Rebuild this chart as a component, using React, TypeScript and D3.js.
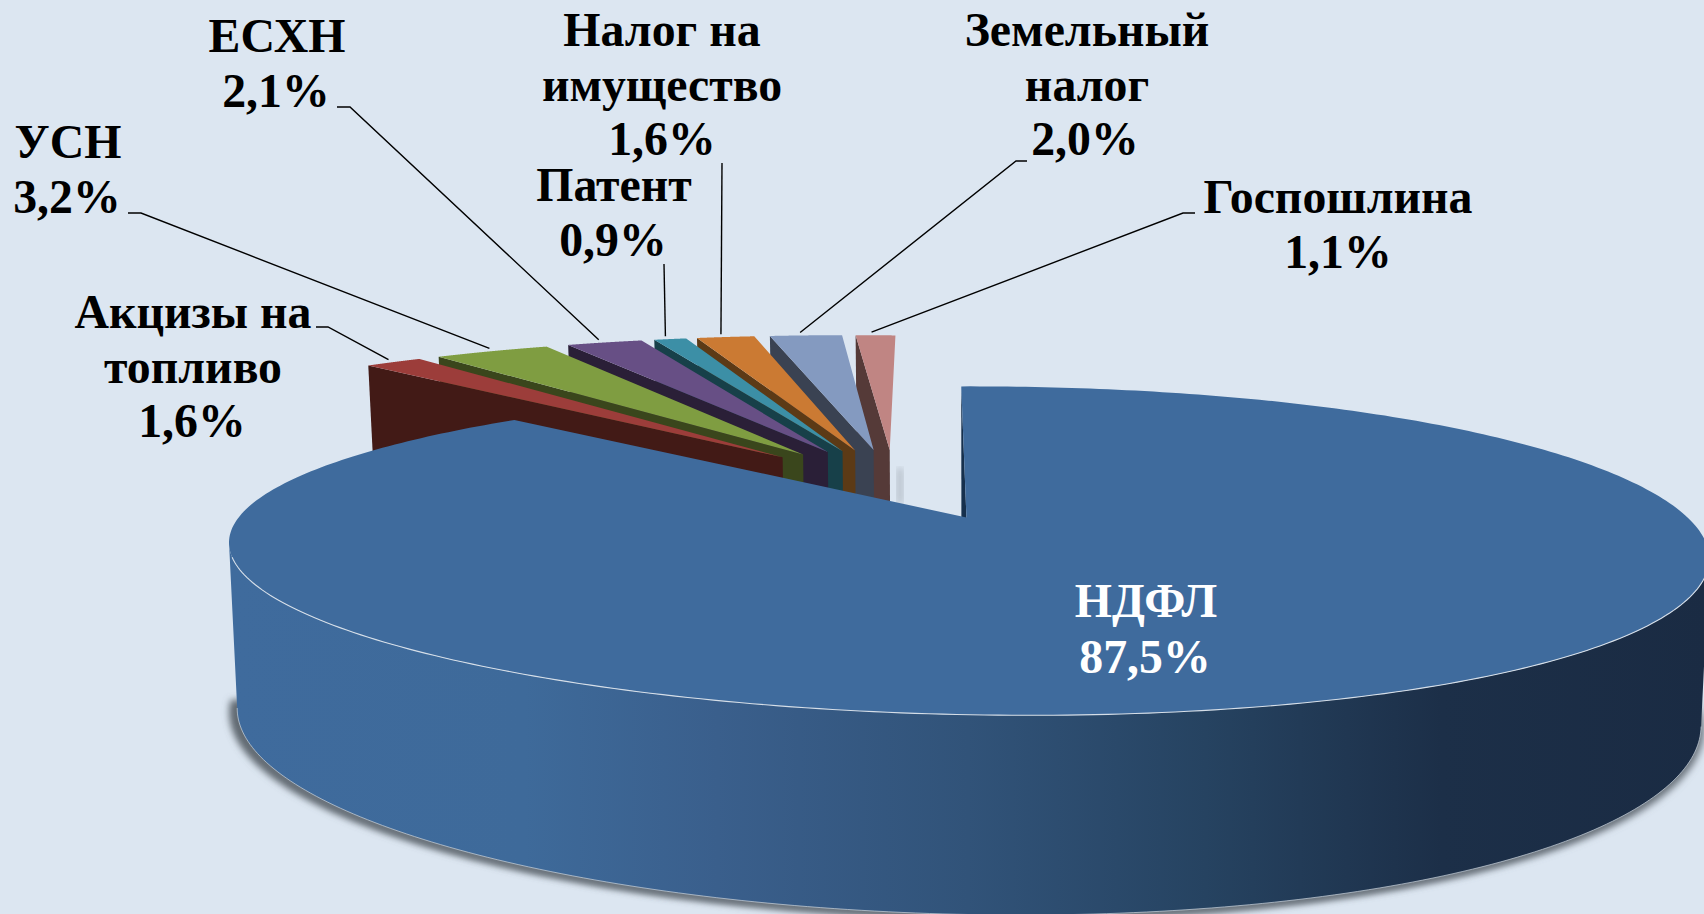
import React from "react";
import * as d3 from "d3";

const categories = ["НДФЛ", "Акцизы на топливо", "УСН", "ЕСХН", "Патент", "Налог на имущество", "Земельный налог", "Госпошлина"];
const shares = [87.5, 1.6, 3.2, 2.1, 0.9, 1.6, 2.0, 1.1];
const shareLabels = ["87,5%", "1,6%", "3,2%", "2,1%", "0,9%", "1,6%", "2,0%", "1,1%"];
const topColors = ["#3F6B9D", "#9C3D3A", "#7F9D41", "#674F85", "#3C8FA6", "#CB7A33", "#849AC0", "#C08583"];
const sideColors = ["#16304D", "#421A16", "#3A461C", "#2A1F37", "#174049", "#5C3A16", "#3A4252", "#553A38"];

const W = 1704, H = 914;
const X0 = 904, Y0 = 485.3, A = 695, B = 144.9, C = 153, K = 0.193, SKEW = 0.0102, MIDX = 974;
const EXPLODE_MAIN = 0.23, EXPLODE_SMALL = 0.25, R_SMALL = 1.035, DX_SMALL = -10;

function project(u: number, v: number, z: number, isMain: boolean): [number, number] {
  const d = 1 - K * v;
  let x = X0 + (A * u) / d;
  let y = Y0 + (B * v + C * z) / d;
  const f = isMain ? 0.3 + 0.9 * v : 1;
  y += SKEW * f * (x - MIDX);
  x = MIDX + (x - MIDX) * (1 - 0.011 * z);
  return [x, y];
}

const pie = d3.pie<number>().sort(null).startAngle((0.5 * Math.PI) / 180).endAngle((360.5 * Math.PI) / 180);
const arcs = pie(shares);

function pt(i: number, mid: number, a: number, r: number, z: number): [number, number] {
  const e = i === 0 ? EXPLODE_MAIN : EXPLODE_SMALL;
  const rr = i === 0 ? r : r * R_SMALL;
  const p = project(e * Math.sin(mid) + rr * Math.sin(a), -e * Math.cos(mid) - rr * Math.cos(a), z, i === 0);
  return i === 0 ? p : [p[0] + DX_SMALL, p[1]];
}
function rim(i: number, s: number, e: number, mid: number, z: number): [number, number][] {
  return d3.range(0, 361).map((k) => pt(i, mid, s + ((e - s) * k) / 360, 1, z));
}
const line = d3.line();
const poly = (p: [number, number][]) => line(p) + "Z";

type Lbl = { i: number; lines: string[]; x: number[]; y: number; lead: [number, number][]; f: number };
const labels: Lbl[] = [
  { i: 1, lines: ["Акцизы на", "топливо", shareLabels[1]], x: [193, 193, 192], y: 328, lead: [[316, 327], [328, 327]], f: 0.4 },
  { i: 2, lines: ["УСН", shareLabels[2]], x: [68, 67], y: 158, lead: [[128, 213], [141, 213]], f: 0.48 },
  { i: 3, lines: ["ЕСХН", shareLabels[3]], x: [277, 276], y: 52, lead: [[337, 107], [350, 107]], f: 0.42 },
  { i: 4, lines: ["Патент", shareLabels[4]], x: [614, 613], y: 201, lead: [[664, 264]], f: 0.35 },
  { i: 5, lines: ["Налог на", "имущество", shareLabels[5]], x: [662, 662, 662], y: 46, lead: [[722, 163]], f: 0.42 },
  { i: 6, lines: ["Земельный", "налог", shareLabels[6]], x: [1087, 1087, 1085], y: 46, lead: [[1027, 161], [1016, 161]], f: 0.42 },
  { i: 7, lines: ["Госпошлина", shareLabels[7]], x: [1338, 1338], y: 213, lead: [[1195, 213], [1183, 213]], f: 0.4 },
];
const FONT = "'Liberation Serif', 'Times New Roman', serif";

export default function App() {
  const main = arcs[0];
  const mMid = (main.startAngle + main.endAngle) / 2;
  const apex = pt(0, mMid, 0, 0, 0);
  const rimTop = rim(0, main.startAngle, main.endAngle, mMid, 0);
  const rimBottom = rim(0, main.startAngle, main.endAngle, mMid, 1);
  const topFace = [apex, ...rimTop];
  const iR = d3.scan(rimTop, (p, q) => q[0] - p[0]) as number;
  const iL = d3.scan(rimTop, (p, q) => p[0] - q[0]) as number;
  const frontTop = rimTop.slice(iR, iL + 1);
  const frontBottom = rimBottom.slice(iR, iL + 1);
  const wall = [...frontTop, ...frontBottom.slice().reverse()];
  const sliver = [pt(0, mMid, main.startAngle, 1, 0), apex, pt(0, mMid, 0, 0, 1), pt(0, mMid, main.startAngle, 1, 1)];
  const small = arcs.slice(1).map((a, k) => ({ a, i: k + 1 })).reverse();

  return (
    <svg width={W} height={H} viewBox={`0 0 ${W} ${H}`} style={{ position: "absolute", left: 0, top: 0, display: "block", background: "#DCE6F1" }}>
      <defs>
        <linearGradient id="wallG" gradientUnits="userSpaceOnUse" x1={229} x2={1708} y1={0} y2={0}>
          <stop offset="0" stopColor="#3F6B9D" />
          <stop offset="0.2" stopColor="#3E6A9A" />
          <stop offset="0.33" stopColor="#3A5F8C" />
          <stop offset="0.5" stopColor="#315379" />
          <stop offset="0.66" stopColor="#264361" />
          <stop offset="0.82" stopColor="#1C2F48" />
          <stop offset="1" stopColor="#1A2B43" />
        </linearGradient>
        <filter id="blur" x="-5%" y="-5%" width="110%" height="110%">
          <feGaussianBlur stdDeviation="3.5" />
        </filter>
        <clipPath id="shClip"><rect x={0} y={696} width={W} height={H} /></clipPath>
      </defs>
      <rect width={W} height={H} fill="#DCE6F1" />

      <g filter="url(#blur)">
        <path d={poly(rimBottom)} fill="#5F6870" clipPath="url(#shClip)" transform="translate(-8,4)" />
      </g>
      <g filter="url(#blur)">
        <path d={poly(rimBottom)} fill="#6E7780" clipPath="url(#shClip)" transform="translate(3,4)" />
      </g>
      <rect x={897} y={468} width={6} height={36} fill="#9AA3AC" opacity={0.6} filter="url(#blur)" />

      {small.map(({ a, i }) => {
        const mid = (a.startAngle + a.endAngle) / 2;
        const ap = pt(i, mid, 0, 0, 0);
        const face = [ap, ...rim(i, a.startAngle, a.endAngle, mid, 0)];
        const side = [pt(i, mid, a.startAngle, 1, 0), ap, pt(i, mid, 0, 0, 1), pt(i, mid, a.startAngle, 1, 1)];
        return (
          <g key={categories[i]}>
            <path d={poly(side)} fill={sideColors[i]} />
            <path d={poly(face)} fill={topColors[i]} />
          </g>
        );
      })}

      <path d={poly(sliver)} fill={sideColors[0]} />
      <path d={poly(wall)} fill="url(#wallG)" />
      <path d={poly(topFace)} fill={topColors[0]} />
      <path d={line(frontTop.slice(0, -6))!} fill="none" stroke="#D5DEE8" strokeWidth={1.1} />
      <path d={line(frontBottom)!} fill="none" stroke="#C8D2DC" strokeWidth={0.7} />

      {labels.map((l) => {
        const a = arcs[l.i];
        const mid = (a.startAngle + a.endAngle) / 2;
        const end = pt(l.i, mid, a.startAngle + (a.endAngle - a.startAngle) * l.f, 1, 0);
        return (
          <path key={"lead" + l.i} d={line([...l.lead, [end[0], end[1] - 3]])!} fill="none" stroke="#000" strokeWidth={1.4} />
        );
      })}

      <g fontFamily={FONT} fontWeight={700} fontSize={47.8} textAnchor="middle" fill="#000">
        {labels.map((l) =>
          l.lines.map((t, j) => (
            <text key={l.i + "-" + j} x={l.x[j]} y={l.y + j * 54.5}>{t}</text>
          ))
        )}
        <text x={1146} y={617} fill="#fff">{categories[0]}</text>
        <text x={1145} y={673} fill="#fff">{shareLabels[0]}</text>
      </g>
    </svg>
  );
}
